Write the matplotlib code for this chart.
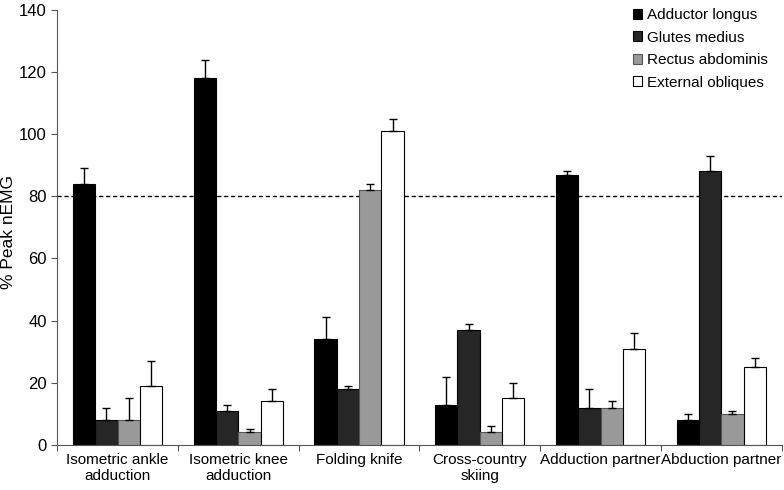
import numpy as np
from matplotlib import pyplot as plt

plt.rcParams['font.family'] = ['Liberation Sans', 'DejaVu Sans']

# datos
ejercicios = ["Isometric ankle\nadduction", "Isometric knee\nadduction", "Folding knife",
              "Cross-country\nskiing", "Adduction partner", "Abduction partner"]
musculos = ["Adductor longus", "Glutes medius", "Rectus abdominis", "External obliques"]

adductor = [84, 118, 34, 13, 87, 8]
adductor_err = [5, 6, 7, 9, 1, 2]
glutes = [8, 11, 18, 37, 12, 88]
glutes_err = [4, 2, 1, 2, 6, 5]
rectus = [8, 4, 82, 4, 12, 10]
rectus_err = [7, 1, 2, 2, 2, 1]
obliques = [19, 14, 101, 15, 31, 25]
obliques_err = [8, 4, 4, 5, 5, 3]

umbral = 80

series = [adductor, glutes, rectus, obliques]
errores = [adductor_err, glutes_err, rectus_err, obliques_err]
colores = ['#000000', '#262626', '#999999', '#ffffff']
bordes = ['#000000', '#000000', '#555555', '#000000']

fig = plt.figure(figsize=(7.84, 4.9), dpi=100)
ax = fig.add_axes([0.073, 0.092, 0.924, 0.888])

x = np.arange(len(ejercicios))
w = 0.185
for i, (vals, err) in enumerate(zip(series, errores)):
    pos = x + (i - 1.5) * w
    ax.bar(pos, vals, w, color=colores[i], edgecolor=bordes[i], linewidth=0.8,
           label=musculos[i], zorder=2)
    ax.errorbar(pos, vals, yerr=[np.zeros(len(vals)), err], fmt='none',
                ecolor='black', elinewidth=1, capsize=3, capthick=1, zorder=3)

ax.axhline(umbral, color='black', linestyle=(0, (3, 2)), linewidth=1, zorder=1)

ax.set_xlim(-0.5, 5.5)
ax.set_ylim(0, 140)
ax.set_yticks(range(0, 141, 20))
ax.set_xticks(np.arange(-0.5, 6, 1))
ax.set_xticklabels([])
ax.set_xticks(x, minor=True)
ax.set_xticklabels(ejercicios, minor=True, fontsize=11)
ax.tick_params(axis='x', which='minor', length=0, pad=6)
ax.tick_params(axis='x', which='major', length=4, direction='out', color='#555555')
ax.tick_params(axis='y', labelsize=12, length=4, color='#555555')
ax.set_ylabel("% Peak nEMG", fontsize=12.5)
ax.yaxis.set_label_coords(-0.057, 0.49)

for s in ['top', 'right']:
    ax.spines[s].set_visible(False)
for s in ['left', 'bottom']:
    ax.spines[s].set_color('#555555')

ax.legend(loc='upper right', frameon=False, fontsize=11, handlelength=0.6,
          handleheight=0.6, handletextpad=0.3, labelspacing=0.55,
          bbox_to_anchor=(1.0, 1.035))

fig.savefig('out.png', dpi=100)
